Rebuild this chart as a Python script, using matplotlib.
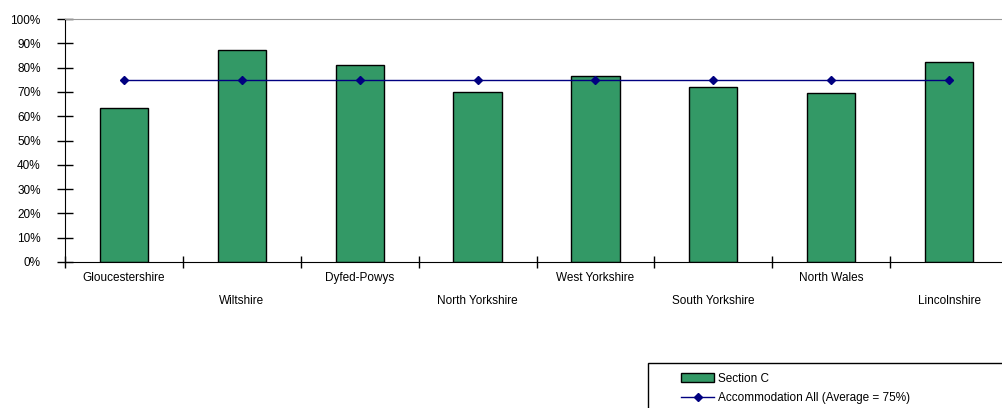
import matplotlib.pyplot as plt
import numpy as np
from matplotlib.patches import Rectangle

# ── Data ───────────────────────────────────────────────────────────────
forces = ['Gloucestershire', 'Wiltshire', 'Dyfed-Powys', 'North Yorkshire',
          'West Yorkshire', 'South Yorkshire', 'North Wales', 'Lincolnshire']
section_c = [63.4, 87.2, 81.0, 70.0, 76.7, 71.9, 69.5, 82.2]
average_all = [75, 75, 75, 75, 75, 75, 75, 75]
y_ticks = [0, 10, 20, 30, 40, 50, 60, 70, 80, 90, 100]

# ── Style ──────────────────────────────────────────────────────────────
BAR = '#339966'
LINE = '#000080'
FS = 8.5
W, H, DPI = 1002, 408, 100

plt.rcParams['font.family'] = ['Liberation Sans', 'DejaVu Sans']

fig = plt.figure(figsize=(W / DPI, H / DPI), dpi=DPI)
fig.set_facecolor('white')

# axes: x from 65px to 1008px (runs past the right edge), y from 19 to 262
left, right, top, bottom = 65, 1008, 19, 262
ax = fig.add_axes([left / W, 1 - bottom / H, (right - left) / W, (bottom - top) / H])

x = np.arange(len(forces))
bars = ax.bar(x, section_c, width=0.41, color=BAR, edgecolor='black', linewidth=1.0,
              label='Section C', zorder=2)
line, = ax.plot(x, average_all, color=LINE, lw=1.0, marker='D', markersize=4.5,
                label='Accommodation All (Average = 75%)', zorder=3)

ax.set_xlim(-0.5, len(forces) - 0.5)
ax.set_ylim(0, 100)

ax.set_yticks(y_ticks)
ax.set_yticklabels([f'{t}%' for t in y_ticks], fontsize=FS)
ax.tick_params(axis='y', direction='inout', length=11, width=1, pad=12)

# ticks at category boundaries, labels staggered under the centres
ax.set_xticks(np.arange(len(forces) + 1) - 0.5)
ax.set_xticklabels([])
ax.tick_params(axis='x', direction='inout', length=8, width=1)
for i, name in enumerate(forces):
    dy = -16 if i % 2 == 0 else -39
    ax.annotate(name, (i, 0), xycoords=('data', 'data'), xytext=(0, dy),
                textcoords='offset pixels', ha='center', va='center', fontsize=FS)

ax.spines['right'].set_visible(False)
ax.spines['top'].set_color('#999999')
ax.spines['left'].set_color('black')
ax.spines['bottom'].set_color('black')

# legend: frame drawn separately so it can run off the edge like the original
fig.patches.append(Rectangle((648 / W, -0.1), 0.5, 1 - 363 / H + 0.1,
                             transform=fig.transFigure, fill=False,
                             edgecolor='black', linewidth=1.0))
fig.legend([bars, line], ['Section C', 'Accommodation All (Average = 75%)'],
           loc='upper left', bbox_to_anchor=(681 / W, 1 - 373 / H), frameon=False,
           fontsize=FS, borderpad=0, borderaxespad=0, handlelength=2.8,
           handletextpad=0.3, labelspacing=0.62, handleheight=0.8)

fig.savefig('out.png', dpi=DPI, facecolor='white')
